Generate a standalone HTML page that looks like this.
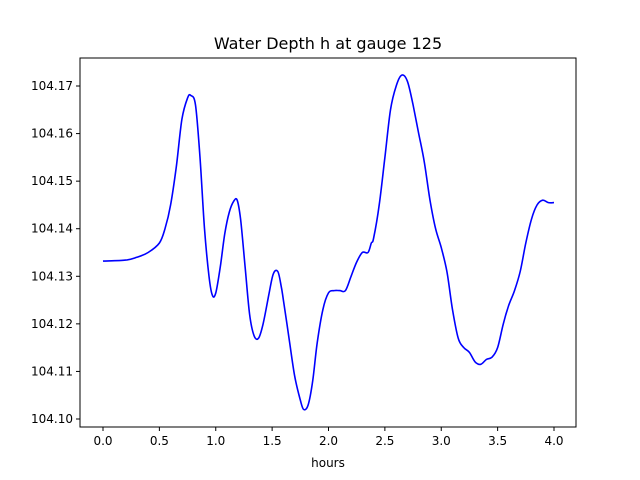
<!DOCTYPE html>
<html><head><meta charset="utf-8"><style>
body{margin:0;background:#fff;}
svg{display:block;font-family:"DejaVu Sans","Liberation Sans",sans-serif;}
</style></head><body>
<svg id="chart" width="640" height="480">
<rect width="640" height="480" fill="#fff"/>
<text x="328" y="49" text-anchor="middle" font-size="16">Water Depth h at gauge 125</text>
<g id="xt"></g><g id="yt"></g>
<path id="line" fill="none" stroke="#0000ff" stroke-width="1.6"/>
<rect x="80" y="58" width="496" height="369" fill="none" stroke="#000" stroke-width="1"/>
<text x="328" y="467" text-anchor="middle" font-size="12">hours</text>
</svg>
<script>
const hours=[0,0.2,0.3,0.4,0.5,0.55,0.6,0.65,0.7,0.75,0.78,0.82,0.86,0.9,0.94,0.97,1.0,1.04,1.08,1.12,1.16,1.19,1.22,1.26,1.3,1.34,1.38,1.42,1.47,1.51,1.55,1.58,1.6,1.65,1.7,1.75,1.78,1.82,1.86,1.9,1.95,2.0,2.05,2.1,2.15,2.2,2.25,2.3,2.35,2.38,2.4,2.45,2.5,2.55,2.6,2.65,2.7,2.75,2.8,2.85,2.9,2.95,3.0,3.05,3.1,3.15,3.2,3.25,3.3,3.35,3.4,3.45,3.5,3.55,3.6,3.65,3.7,3.75,3.8,3.85,3.9,3.95,4.0];
const depth=[104.1332,104.1334,104.134,104.135,104.137,104.14,104.145,104.153,104.163,104.1675,104.168,104.166,104.155,104.14,104.13,104.126,104.1265,104.132,104.139,104.1435,104.1458,104.146,104.142,104.132,104.122,104.1175,104.117,104.12,104.126,104.1305,104.131,104.128,104.125,104.117,104.109,104.104,104.102,104.103,104.108,104.116,104.123,104.1265,104.127,104.127,104.127,104.13,104.133,104.135,104.135,104.137,104.138,104.145,104.155,104.165,104.17,104.1723,104.171,104.166,104.16,104.154,104.146,104.14,104.136,104.131,104.123,104.117,104.115,104.114,104.112,104.1115,104.1125,104.113,104.115,104.12,104.124,104.127,104.131,104.137,104.142,104.145,104.146,104.1455,104.1455];
const xTicks=["0.0","0.5","1.0","1.5","2.0","2.5","3.0","3.5","4.0"];
const yTicks=["104.10","104.11","104.12","104.13","104.14","104.15","104.16","104.17"];
const X=v=>103+v*112.75;
const Y=v=>419-(v-104.10)*4757;
const NS="http://www.w3.org/2000/svg";
const pts=hours.map((h,i)=>[X(h),Y(depth[i])]);
let d='M'+pts[0][0].toFixed(1)+','+pts[0][1].toFixed(1);
for(let i=0;i<pts.length-1;i++){
 const p0=pts[Math.max(i-1,0)],p1=pts[i],p2=pts[i+1],p3=pts[Math.min(i+2,pts.length-1)];
 const c1=[p1[0]+(p2[0]-p0[0])/6,p1[1]+(p2[1]-p0[1])/6];
 const c2=[p2[0]-(p3[0]-p1[0])/6,p2[1]-(p3[1]-p1[1])/6];
 d+=' C'+c1[0].toFixed(1)+','+c1[1].toFixed(1)+' '+c2[0].toFixed(1)+','+c2[1].toFixed(1)+' '+p2[0].toFixed(1)+','+p2[1].toFixed(1);
}
document.getElementById('line').setAttribute('d',d);
const xt=document.getElementById('xt'),yt=document.getElementById('yt');
xTicks.forEach(t=>{const x=X(parseFloat(t));
 const l=document.createElementNS(NS,'line');l.setAttribute('x1',x);l.setAttribute('x2',x);l.setAttribute('y1',427);l.setAttribute('y2',431);l.setAttribute('stroke','#000');
 
 xt.appendChild(l);
 const s=document.createElementNS(NS,'text');s.setAttribute('x',x);s.setAttribute('y',445);s.setAttribute('text-anchor','middle');s.setAttribute('font-size','12');s.textContent=t;
 
 xt.appendChild(s);});
yTicks.forEach(t=>{const y=Y(parseFloat(t));
 const l=document.createElementNS(NS,'line');l.setAttribute('x1',76);l.setAttribute('x2',80);l.setAttribute('y1',y);l.setAttribute('y2',y);l.setAttribute('stroke','#000');
 
 yt.appendChild(l);
 const s=document.createElementNS(NS,'text');s.setAttribute('x',73);s.setAttribute('y',y+4);s.setAttribute('text-anchor','end');s.setAttribute('font-size','12');s.textContent=t;
 
 yt.appendChild(s);});
</script>
</body></html>
